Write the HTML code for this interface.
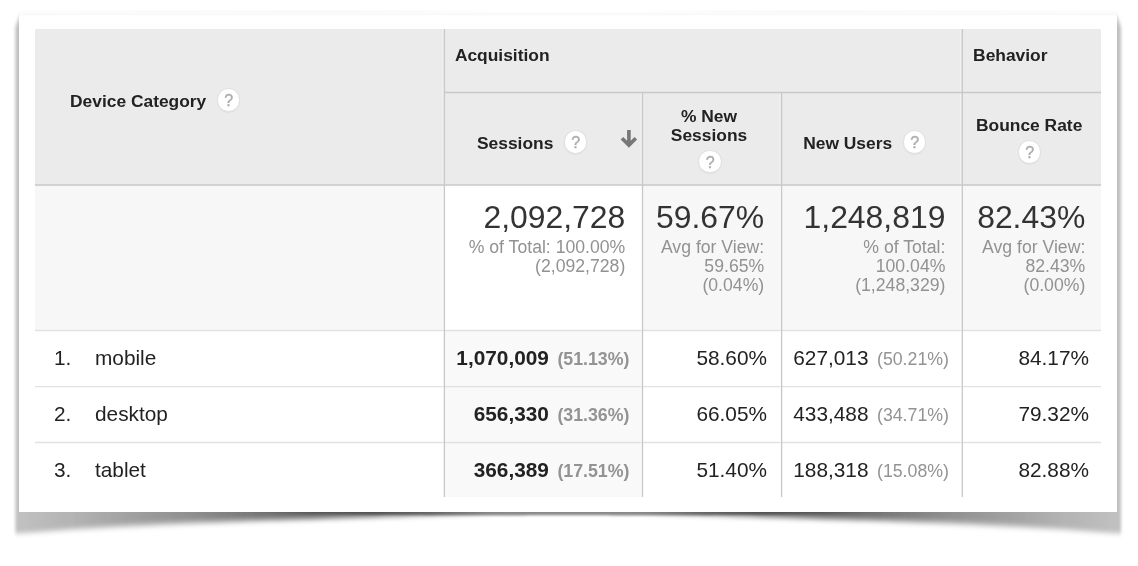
<!DOCTYPE html>
<html>
<head>
<meta charset="utf-8">
<title>Device Category</title>
<style>
html,body{margin:0;padding:0;background:#fff;}
body{width:1138px;height:566px;position:relative;overflow:hidden;font-family:"Liberation Sans",sans-serif;color:#222;}
#shadow,#lines{position:absolute;left:0;top:0;width:1138px;height:566px;}
#layer{position:absolute;left:0;top:0;width:1138px;height:566px;will-change:transform;}
#topband{position:absolute;left:19px;top:12px;width:1098px;height:4px;background:linear-gradient(to bottom,#fff 0%,#f9f9f9 35%,#fafafa 70%,#fff 100%);}
#card{position:absolute;left:19px;top:16px;width:1098px;height:496px;background:#fff;}
.c{position:absolute;box-sizing:border-box;}
.hd{background:#ebebeb;}
.sm{background:#f7f7f7;}
.h{position:absolute;font-weight:bold;font-size:17.4px;line-height:19px;color:#222;white-space:nowrap;}
.q{position:absolute;width:21.4px;height:21.4px;margin:-10.3px 0 0 -10.7px;border-radius:50%;background:#fff;box-shadow:0 0 0 1px #e2e2e2,0 1px 1px 0.5px #d8d8d8;color:#adadad;font-size:16px;line-height:24px;text-indent:0.8px;text-align:center;font-weight:normal;-webkit-text-stroke:0.4px #adadad;}
.big{position:absolute;font-size:31.9px;line-height:34px;color:#333;text-align:right;white-space:nowrap;}
.sub{position:absolute;font-size:17.65px;line-height:19.1px;color:#929292;text-align:right;white-space:nowrap;}
.d{position:absolute;font-size:20.8px;line-height:24px;color:#222;white-space:nowrap;}
.r{text-align:right;}
.b{font-weight:bold;}
.p{font-size:17.75px;color:#939393;margin-left:8.5px;}
</style>
</head>
<body>
<svg id="shadow" width="1138" height="566" viewBox="0 0 1138 566">
<defs>
<filter id="bl" x="-2%" y="-5%" width="104%" height="110%"><feGaussianBlur stdDeviation="1.6 2.60"/></filter>
<filter id="bl2" x="-2%" y="-50%" width="104%" height="200%"><feGaussianBlur stdDeviation="1.0"/></filter>
<linearGradient id="sg" gradientUnits="userSpaceOnUse" x1="15.4" y1="0" x2="1121.0" y2="0"><stop offset="0%" stop-opacity="0.089"/><stop offset="0.33%" stop-opacity="0.089"/><stop offset="5.39%" stop-opacity="0.112"/><stop offset="10.37%" stop-opacity="0.143"/><stop offset="15.79%" stop-opacity="0.176"/><stop offset="21.22%" stop-opacity="0.223"/><stop offset="26.65%" stop-opacity="0.263"/><stop offset="32.07%" stop-opacity="0.234"/><stop offset="37.50%" stop-opacity="0.138"/><stop offset="42.93%" stop-opacity="0.024"/><stop offset="49.98%" stop-opacity="0.014"/><stop offset="57.04%" stop-opacity="0.024"/><stop offset="62.46%" stop-opacity="0.138"/><stop offset="67.89%" stop-opacity="0.234"/><stop offset="73.32%" stop-opacity="0.263"/><stop offset="78.74%" stop-opacity="0.223"/><stop offset="84.17%" stop-opacity="0.176"/><stop offset="89.60%" stop-opacity="0.143"/><stop offset="94.57%" stop-opacity="0.112"/><stop offset="99.64%" stop-opacity="0.089"/><stop offset="100%" stop-opacity="0.089"/></linearGradient>
<linearGradient id="sg2" gradientUnits="userSpaceOnUse" x1="15.4" y1="0" x2="1121.0" y2="0"><stop offset="0%" stop-opacity="0.000"/><stop offset="0.33%" stop-opacity="0.000"/><stop offset="21.22%" stop-opacity="0.000"/><stop offset="26.65%" stop-opacity="0.150"/><stop offset="32.07%" stop-opacity="0.320"/><stop offset="37.50%" stop-opacity="0.420"/><stop offset="42.93%" stop-opacity="0.440"/><stop offset="49.98%" stop-opacity="0.440"/><stop offset="57.04%" stop-opacity="0.440"/><stop offset="62.46%" stop-opacity="0.420"/><stop offset="67.89%" stop-opacity="0.320"/><stop offset="73.32%" stop-opacity="0.150"/><stop offset="78.74%" stop-opacity="0.000"/><stop offset="99.64%" stop-opacity="0.000"/><stop offset="100%" stop-opacity="0.000"/></linearGradient>
</defs>
<g filter="url(#bl)" fill="url(#sg)">
<path d="M15.4 27.0 L19.9 15.5 L1116.5 15.5 L1121.0 27.0 L1121.0 534.2 L1117.0 534.2 L1111.0 534.0 L1105.0 533.6 L1099.0 533.2 L1093.0 532.9 L1087.0 532.5 L1081.0 532.1 L1075.0 531.7 L1069.0 531.3 L1063.0 530.9 L1057.0 530.6 L1051.0 530.3 L1045.0 529.9 L1039.0 529.6 L1033.0 529.3 L1027.0 528.9 L1021.0 528.6 L1015.0 528.3 L1009.0 528.0 L1003.0 527.7 L997.0 527.4 L991.0 527.0 L985.0 526.8 L979.0 526.4 L973.0 526.1 L967.0 525.8 L961.0 525.5 L955.0 525.3 L949.0 525.0 L943.0 524.7 L937.0 524.4 L931.0 524.2 L925.0 523.9 L919.0 523.7 L913.0 523.4 L907.0 523.2 L901.0 522.9 L895.0 522.7 L889.0 522.4 L883.0 522.2 L877.0 522.0 L871.0 521.8 L865.0 521.6 L859.0 521.4 L853.0 521.2 L847.0 521.0 L841.0 520.8 L835.0 520.6 L829.0 520.4 L823.0 520.2 L817.0 520.0 L811.0 519.8 L805.0 519.6 L799.0 519.4 L793.0 519.2 L787.0 519.0 L781.0 518.8 L775.0 518.6 L769.0 518.4 L763.0 518.2 L757.0 518.0 L751.0 517.8 L745.0 517.6 L739.0 517.4 L733.0 517.2 L727.0 517.0 L721.0 516.8 L715.0 516.6 L709.0 516.4 L703.0 516.2 L697.0 516.1 L691.0 515.9 L685.0 515.8 L679.0 515.6 L673.0 515.5 L667.0 515.3 L661.0 515.2 L655.0 515.0 L649.0 514.9 L643.0 514.8 L637.0 514.7 L631.0 514.7 L625.0 514.7 L619.0 514.6 L613.0 514.6 L607.0 514.5 L601.0 514.5 L595.0 514.5 L589.0 514.4 L583.0 514.4 L577.0 514.4 L571.0 514.3 L568.0 514.3 L565.0 514.3 L559.0 514.4 L553.0 514.4 L547.0 514.4 L541.0 514.5 L535.0 514.5 L529.0 514.5 L523.0 514.6 L517.0 514.6 L511.0 514.7 L505.0 514.7 L499.0 514.7 L493.0 514.8 L487.0 514.9 L481.0 515.0 L475.0 515.2 L469.0 515.3 L463.0 515.5 L457.0 515.6 L451.0 515.8 L445.0 515.9 L439.0 516.1 L433.0 516.2 L427.0 516.4 L421.0 516.6 L415.0 516.8 L409.0 517.0 L403.0 517.2 L397.0 517.4 L391.0 517.6 L385.0 517.8 L379.0 518.0 L373.0 518.2 L367.0 518.4 L361.0 518.6 L355.0 518.8 L349.0 519.0 L343.0 519.2 L337.0 519.4 L331.0 519.6 L325.0 519.8 L319.0 520.0 L313.0 520.2 L307.0 520.4 L301.0 520.6 L295.0 520.8 L289.0 521.0 L283.0 521.2 L277.0 521.4 L271.0 521.6 L265.0 521.8 L259.0 522.0 L253.0 522.2 L247.0 522.4 L241.0 522.7 L235.0 522.9 L229.0 523.2 L223.0 523.4 L217.0 523.7 L211.0 523.9 L205.0 524.2 L199.0 524.4 L193.0 524.7 L187.0 525.0 L181.0 525.3 L175.0 525.5 L169.0 525.8 L163.0 526.1 L157.0 526.4 L151.0 526.8 L145.0 527.0 L139.0 527.4 L133.0 527.7 L127.0 528.0 L121.0 528.3 L115.0 528.6 L109.0 528.9 L103.0 529.3 L97.0 529.6 L91.0 529.9 L85.0 530.3 L79.0 530.6 L73.0 530.9 L67.0 531.3 L61.0 531.7 L55.0 532.1 L49.0 532.5 L43.0 532.9 L37.0 533.2 L31.0 533.6 L25.0 534.0 L19.0 534.2 L15.4 534.2 Z"/>
<path d="M15.4 27.0 L19.9 15.5 L1116.5 15.5 L1121.0 27.0 L1121.0 533.3 L1117.0 533.3 L1111.0 533.0 L1105.0 532.5 L1099.0 532.0 L1093.0 531.5 L1087.0 531.1 L1081.0 530.6 L1075.0 530.1 L1069.0 529.6 L1063.0 529.1 L1057.0 528.7 L1051.0 528.3 L1045.0 527.9 L1039.0 527.5 L1033.0 527.2 L1027.0 526.8 L1021.0 526.4 L1015.0 526.0 L1009.0 525.7 L1003.0 525.3 L997.0 525.0 L991.0 524.7 L985.0 524.4 L979.0 524.1 L973.0 523.8 L967.0 523.5 L961.0 523.2 L955.0 522.9 L949.0 522.6 L943.0 522.4 L937.0 522.1 L931.0 521.9 L925.0 521.7 L919.0 521.4 L913.0 521.2 L907.0 521.0 L901.0 520.8 L895.0 520.5 L889.0 520.3 L883.0 520.1 L877.0 519.9 L871.0 519.8 L865.0 519.6 L859.0 519.4 L853.0 519.2 L847.0 519.1 L841.0 518.9 L835.0 518.7 L829.0 518.5 L823.0 518.4 L817.0 518.2 L811.0 518.1 L805.0 517.9 L799.0 517.8 L793.0 517.6 L787.0 517.5 L781.0 517.3 L775.0 517.2 L769.0 517.0 L763.0 516.9 L757.0 516.8 L751.0 516.6 L745.0 516.5 L739.0 516.4 L733.0 516.3 L727.0 516.1 L721.0 516.0 L715.0 515.9 L709.0 515.8 L703.0 515.7 L697.0 515.6 L691.0 515.5 L685.0 515.4 L679.0 515.3 L673.0 515.2 L667.0 515.1 L661.0 515.0 L655.0 514.9 L649.0 514.9 L643.0 514.8 L637.0 514.7 L631.0 514.7 L625.0 514.7 L619.0 514.6 L613.0 514.6 L607.0 514.5 L601.0 514.5 L595.0 514.5 L589.0 514.4 L583.0 514.4 L577.0 514.4 L571.0 514.3 L568.0 514.3 L565.0 514.3 L559.0 514.4 L553.0 514.4 L547.0 514.4 L541.0 514.5 L535.0 514.5 L529.0 514.5 L523.0 514.6 L517.0 514.6 L511.0 514.7 L505.0 514.7 L499.0 514.7 L493.0 514.8 L487.0 514.9 L481.0 514.9 L475.0 515.0 L469.0 515.1 L463.0 515.2 L457.0 515.3 L451.0 515.4 L445.0 515.5 L439.0 515.6 L433.0 515.7 L427.0 515.8 L421.0 515.9 L415.0 516.0 L409.0 516.1 L403.0 516.3 L397.0 516.4 L391.0 516.5 L385.0 516.6 L379.0 516.8 L373.0 516.9 L367.0 517.0 L361.0 517.2 L355.0 517.3 L349.0 517.5 L343.0 517.6 L337.0 517.8 L331.0 517.9 L325.0 518.1 L319.0 518.2 L313.0 518.4 L307.0 518.5 L301.0 518.7 L295.0 518.9 L289.0 519.1 L283.0 519.2 L277.0 519.4 L271.0 519.6 L265.0 519.8 L259.0 519.9 L253.0 520.1 L247.0 520.3 L241.0 520.5 L235.0 520.8 L229.0 521.0 L223.0 521.2 L217.0 521.4 L211.0 521.7 L205.0 521.9 L199.0 522.1 L193.0 522.4 L187.0 522.6 L181.0 522.9 L175.0 523.2 L169.0 523.5 L163.0 523.8 L157.0 524.1 L151.0 524.4 L145.0 524.7 L139.0 525.0 L133.0 525.3 L127.0 525.7 L121.0 526.0 L115.0 526.4 L109.0 526.8 L103.0 527.2 L97.0 527.5 L91.0 527.9 L85.0 528.3 L79.0 528.7 L73.0 529.1 L67.0 529.6 L61.0 530.1 L55.0 530.6 L49.0 531.1 L43.0 531.5 L37.0 532.0 L31.0 532.5 L25.0 533.0 L19.0 533.3 L15.4 533.3 Z"/>
<path d="M15.4 27.0 L19.9 15.5 L1116.5 15.5 L1121.0 27.0 L1121.0 532.3 L1117.0 532.3 L1111.0 531.9 L1105.0 531.4 L1099.0 530.8 L1093.0 530.2 L1087.0 529.7 L1081.0 529.1 L1075.0 528.5 L1069.0 527.9 L1063.0 527.3 L1057.0 526.8 L1051.0 526.4 L1045.0 525.9 L1039.0 525.5 L1033.0 525.1 L1027.0 524.6 L1021.0 524.2 L1015.0 523.8 L1009.0 523.4 L1003.0 523.0 L997.0 522.7 L991.0 522.4 L985.0 522.1 L979.0 521.8 L973.0 521.5 L967.0 521.1 L961.0 520.9 L955.0 520.6 L949.0 520.3 L943.0 520.0 L937.0 519.8 L931.0 519.6 L925.0 519.4 L919.0 519.2 L913.0 519.0 L907.0 518.8 L901.0 518.6 L895.0 518.4 L889.0 518.2 L883.0 518.0 L877.0 517.9 L871.0 517.7 L865.0 517.6 L859.0 517.4 L853.0 517.3 L847.0 517.1 L841.0 517.0 L835.0 516.8 L829.0 516.7 L823.0 516.6 L817.0 516.5 L811.0 516.4 L805.0 516.2 L799.0 516.1 L793.0 516.0 L787.0 516.0 L781.0 515.9 L775.0 515.8 L769.0 515.7 L763.0 515.6 L757.0 515.5 L751.0 515.5 L745.0 515.4 L739.0 515.4 L733.0 515.3 L727.0 515.3 L721.0 515.2 L715.0 515.2 L709.0 515.1 L703.0 515.1 L697.0 515.1 L691.0 515.0 L685.0 515.0 L679.0 515.0 L673.0 514.9 L667.0 514.9 L661.0 514.9 L655.0 514.8 L649.0 514.8 L643.0 514.8 L637.0 514.7 L631.0 514.7 L625.0 514.7 L619.0 514.6 L613.0 514.6 L607.0 514.5 L601.0 514.5 L595.0 514.5 L589.0 514.4 L583.0 514.4 L577.0 514.4 L571.0 514.3 L568.0 514.3 L565.0 514.3 L559.0 514.4 L553.0 514.4 L547.0 514.4 L541.0 514.5 L535.0 514.5 L529.0 514.5 L523.0 514.6 L517.0 514.6 L511.0 514.7 L505.0 514.7 L499.0 514.7 L493.0 514.8 L487.0 514.8 L481.0 514.8 L475.0 514.9 L469.0 514.9 L463.0 514.9 L457.0 515.0 L451.0 515.0 L445.0 515.0 L439.0 515.1 L433.0 515.1 L427.0 515.1 L421.0 515.2 L415.0 515.2 L409.0 515.3 L403.0 515.3 L397.0 515.4 L391.0 515.4 L385.0 515.5 L379.0 515.5 L373.0 515.6 L367.0 515.7 L361.0 515.8 L355.0 515.9 L349.0 516.0 L343.0 516.0 L337.0 516.1 L331.0 516.2 L325.0 516.4 L319.0 516.5 L313.0 516.6 L307.0 516.7 L301.0 516.8 L295.0 517.0 L289.0 517.1 L283.0 517.3 L277.0 517.4 L271.0 517.6 L265.0 517.7 L259.0 517.9 L253.0 518.0 L247.0 518.2 L241.0 518.4 L235.0 518.6 L229.0 518.8 L223.0 519.0 L217.0 519.2 L211.0 519.4 L205.0 519.6 L199.0 519.8 L193.0 520.0 L187.0 520.3 L181.0 520.6 L175.0 520.9 L169.0 521.1 L163.0 521.5 L157.0 521.8 L151.0 522.1 L145.0 522.4 L139.0 522.7 L133.0 523.0 L127.0 523.4 L121.0 523.8 L115.0 524.2 L109.0 524.6 L103.0 525.1 L97.0 525.5 L91.0 525.9 L85.0 526.4 L79.0 526.8 L73.0 527.3 L67.0 527.9 L61.0 528.5 L55.0 529.1 L49.0 529.7 L43.0 530.2 L37.0 530.8 L31.0 531.4 L25.0 531.9 L19.0 532.3 L15.4 532.3 Z"/>
</g>
<path filter="url(#bl2)" fill="url(#sg2)" d="M15.4 509.0 L19.9 497.5 L1116.5 497.5 L1121.0 509.0 L1121.0 512.0 L1117.0 512.0 L1111.0 512.0 L1105.0 512.0 L1099.0 512.0 L1093.0 512.1 L1087.0 512.1 L1081.0 512.1 L1075.0 512.1 L1069.0 512.1 L1063.0 512.1 L1057.0 512.1 L1051.0 512.1 L1045.0 512.2 L1039.0 512.2 L1033.0 512.2 L1027.0 512.2 L1021.0 512.2 L1015.0 512.2 L1009.0 512.2 L1003.0 512.2 L997.0 512.3 L991.0 512.3 L985.0 512.3 L979.0 512.3 L973.0 512.3 L967.0 512.3 L961.0 512.3 L955.0 512.4 L949.0 512.4 L943.0 512.4 L937.0 512.4 L931.0 512.4 L925.0 512.4 L919.0 512.4 L913.0 512.4 L907.0 512.5 L901.0 512.5 L895.0 512.5 L889.0 512.5 L883.0 512.6 L877.0 512.7 L871.0 512.9 L865.0 513.0 L859.0 513.2 L853.0 513.3 L847.0 513.5 L841.0 513.6 L835.0 513.8 L829.0 513.9 L823.0 514.0 L817.0 514.1 L811.0 514.2 L805.0 514.3 L799.0 514.4 L793.0 514.5 L787.0 514.6 L781.0 514.7 L775.0 514.8 L769.0 514.8 L763.0 514.9 L757.0 515.0 L751.0 515.0 L745.0 515.1 L739.0 515.1 L733.0 515.2 L727.0 515.2 L721.0 515.3 L715.0 515.3 L709.0 515.4 L703.0 515.4 L697.0 515.4 L691.0 515.4 L685.0 515.4 L679.0 515.4 L673.0 515.4 L667.0 515.4 L661.0 515.4 L655.0 515.4 L649.0 515.4 L643.0 515.4 L637.0 515.4 L631.0 515.4 L625.0 515.4 L619.0 515.4 L613.0 515.4 L607.0 515.3 L601.0 515.3 L595.0 515.3 L589.0 515.3 L583.0 515.3 L577.0 515.3 L571.0 515.3 L568.0 515.3 L565.0 515.3 L559.0 515.3 L553.0 515.3 L547.0 515.3 L541.0 515.3 L535.0 515.3 L529.0 515.3 L523.0 515.4 L517.0 515.4 L511.0 515.4 L505.0 515.4 L499.0 515.4 L493.0 515.4 L487.0 515.4 L481.0 515.4 L475.0 515.4 L469.0 515.4 L463.0 515.4 L457.0 515.4 L451.0 515.4 L445.0 515.4 L439.0 515.4 L433.0 515.4 L427.0 515.4 L421.0 515.3 L415.0 515.3 L409.0 515.2 L403.0 515.2 L397.0 515.1 L391.0 515.1 L385.0 515.0 L379.0 515.0 L373.0 514.9 L367.0 514.8 L361.0 514.8 L355.0 514.7 L349.0 514.6 L343.0 514.5 L337.0 514.4 L331.0 514.3 L325.0 514.2 L319.0 514.1 L313.0 514.0 L307.0 513.9 L301.0 513.8 L295.0 513.6 L289.0 513.5 L283.0 513.3 L277.0 513.2 L271.0 513.0 L265.0 512.9 L259.0 512.7 L253.0 512.6 L247.0 512.5 L241.0 512.5 L235.0 512.5 L229.0 512.5 L223.0 512.4 L217.0 512.4 L211.0 512.4 L205.0 512.4 L199.0 512.4 L193.0 512.4 L187.0 512.4 L181.0 512.4 L175.0 512.3 L169.0 512.3 L163.0 512.3 L157.0 512.3 L151.0 512.3 L145.0 512.3 L139.0 512.3 L133.0 512.2 L127.0 512.2 L121.0 512.2 L115.0 512.2 L109.0 512.2 L103.0 512.2 L97.0 512.2 L91.0 512.2 L85.0 512.1 L79.0 512.1 L73.0 512.1 L67.0 512.1 L61.0 512.1 L55.0 512.1 L49.0 512.1 L43.0 512.1 L37.0 512.0 L31.0 512.0 L25.0 512.0 L19.0 512.0 L15.4 512.0 Z"/>
</svg>
<div id="topband"></div>
<div id="card"></div>
<div id="layer">

<!-- backgrounds -->
<div class="c hd" style="left:35px;top:29px;width:1066px;height:156px;"></div>
<div class="c sm" style="left:35px;top:185px;width:1066px;height:146px;"></div>
<div class="c" style="left:445px;top:185px;width:198px;height:146px;background:#fff;"></div>
<div class="c" style="left:445px;top:331px;width:198px;height:166px;background:#f9f9f9;"></div>

<!-- lines -->
<svg id="lines" width="1138" height="566" viewBox="0 0 1138 566">
<g stroke="#e1e1e1" stroke-width="1.3">
<line x1="35" y1="330.5" x2="1101" y2="330.5"/>
<line x1="35" y1="386.7" x2="1101" y2="386.7"/>
<line x1="35" y1="442.5" x2="1101" y2="442.5"/>
</g>
<g stroke="#fff" stroke-opacity="0.4" stroke-width="1">
<line x1="442.9" y1="29" x2="442.9" y2="497"/>
<line x1="641" y1="93.2" x2="641" y2="497"/>
<line x1="780.1" y1="93.2" x2="780.1" y2="497"/>
<line x1="960.8" y1="29" x2="960.8" y2="497"/>
</g>
<g stroke="#c8c8c8" stroke-width="1.3">
<line x1="444.4" y1="92.5" x2="1101" y2="92.5"/>
<line x1="35" y1="185" x2="1101" y2="185"/>
<line x1="444.4" y1="29" x2="444.4" y2="497"/>
<line x1="642.5" y1="92.5" x2="642.5" y2="497"/>
<line x1="781.6" y1="92.5" x2="781.6" y2="497"/>
<line x1="962.3" y1="29" x2="962.3" y2="497"/>
</g>
</svg>

<!-- headers -->
<div class="h" style="left:70px;top:92px;">Device Category</div>
<div class="q" style="left:228.3px;top:99.7px;">?</div>
<div class="h" style="left:454.9px;top:45.7px;">Acquisition</div>
<div class="h" style="left:973.1px;top:45.7px;">Behavior</div>
<div class="h" style="left:477px;top:133.5px;">Sessions</div>
<div class="q" style="left:575.3px;top:141.7px;">?</div>
<svg class="c" style="left:619px;top:128px;" width="20" height="22" viewBox="0 0 20 22"><path d="M9.9 1.9 V17 M2.97 10.2 L9.9 17.13 L16.83 10.2" fill="none" stroke="#777" stroke-width="3.6"/></svg>
<div class="h" style="left:639px;top:106.5px;width:140px;text-align:center;">% New<br>Sessions</div>
<div class="q" style="left:709.9px;top:160.9px;">?</div>
<div class="h" style="left:803.2px;top:133.5px;">New Users</div>
<div class="q" style="left:914.3px;top:141.7px;">?</div>
<div class="h" style="left:976px;top:116.4px;">Bounce Rate</div>
<div class="q" style="left:1029.4px;top:151.7px;">?</div>

<!-- summary -->
<div class="big" style="right:512.7px;top:200px;">2,092,728</div>
<div class="sub" style="right:512.7px;top:238px;">% of Total: 100.00%<br>(2,092,728)</div>
<div class="big" style="right:373.8px;top:200px;">59.67%</div>
<div class="sub" style="right:373.8px;top:238px;">Avg for View:<br>59.65%<br>(0.04%)</div>
<div class="big" style="right:192.6px;top:200px;">1,248,819</div>
<div class="sub" style="right:192.6px;top:238px;">% of Total:<br>100.04%<br>(1,248,329)</div>
<div class="big" style="right:52.7px;top:200px;">82.43%</div>
<div class="sub" style="right:52.7px;top:238px;">Avg for View:<br>82.43%<br>(0.00%)</div>

<!-- rows -->
<div class="d" style="left:54px;top:346px;">1.</div><div class="d" style="left:95px;top:346px;">mobile</div>
<div class="d" style="left:54px;top:402px;">2.</div><div class="d" style="left:95px;top:402px;">desktop</div>
<div class="d" style="left:54px;top:458px;">3.</div><div class="d" style="left:95px;top:458px;">tablet</div>

<div class="d r" style="right:508.6px;top:346px;"><span class="b">1,070,009</span><span class="p b">(51.13%)</span></div>
<div class="d r" style="right:508.6px;top:402px;"><span class="b">656,330</span><span class="p b">(31.36%)</span></div>
<div class="d r" style="right:508.6px;top:458px;"><span class="b">366,389</span><span class="p b">(17.51%)</span></div>

<div class="d r" style="right:371px;top:346px;">58.60%</div>
<div class="d r" style="right:371px;top:402px;">66.05%</div>
<div class="d r" style="right:371px;top:458px;">51.40%</div>

<div class="d r" style="right:189px;top:346px;">627,013<span class="p">(50.21%)</span></div>
<div class="d r" style="right:189px;top:402px;">433,488<span class="p">(34.71%)</span></div>
<div class="d r" style="right:189px;top:458px;">188,318<span class="p">(15.08%)</span></div>

<div class="d r" style="right:49px;top:346px;">84.17%</div>
<div class="d r" style="right:49px;top:402px;">79.32%</div>
<div class="d r" style="right:49px;top:458px;">82.88%</div>
</div>
</body>
</html>
